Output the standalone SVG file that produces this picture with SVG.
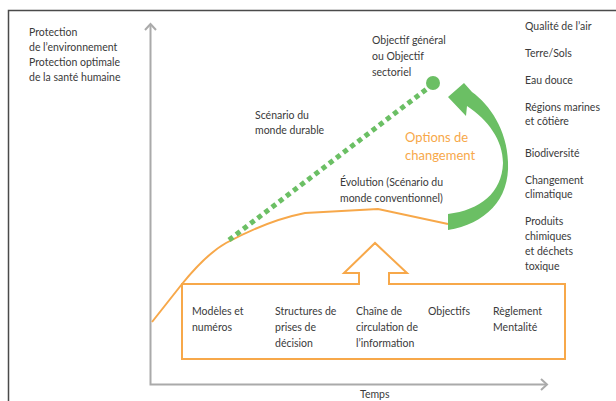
<svg xmlns="http://www.w3.org/2000/svg" width="616" height="401" viewBox="0 0 616 401">
<style>
.t{font-family:Lato,"Open Sans",sans-serif;font-size:10.5px;fill:#3a3a3a}
.o{font-family:Lato,"Open Sans",sans-serif;font-size:13px;fill:#F7A84A}
.ax{stroke:#aaaaaa;stroke-width:2;fill:none}
.or{stroke:#F7A84A;stroke-width:2;fill:none}
</style>
<rect width="616" height="401" fill="#ffffff"/>
<g id="frame">
<path d="M8.5,401 V10.5 H616" fill="none" stroke="#4a4a4a" stroke-width="1.5"/>
</g>
<g id="axes">
<path class="ax" d="M150.5,24 V384.5 H547"/>
<path class="ax" d="M145,30 L150.5,24 L156,30"/>
<path class="ax" d="M541,379 L547,384.5 L541,390"/>
<text class="t" x="360" y="398">Temps</text>
</g>
<g id="y-label">
<text class="t" x="29" y="36">Protection</text>
<text class="t" x="29" y="51">de l’environnement</text>
<text class="t" x="29" y="66">Protection optimale</text>
<text class="t" x="29" y="81">de la santé humaine</text>
</g>
<g id="connectors">
<path class="or" d="M152,322 L182,284 C195,268 210,252 226,243 C250,230 280,218 305,213 L378,209 L448,224"/>
<path d="M229,240 L428,88" stroke="#6BBF64" stroke-width="5" stroke-dasharray="5,4" fill="none"/>
<circle cx="433" cy="83" r="7" fill="#6BBF64"/>
<path d="M448,230 C485,224 510,200 508,162 C507,130 490,105 472,92 L464,83 L448,97 L466,116 L467,106 C488,120 503,140 503,163 C502,193 480,210 448,214 Z" fill="#6BBF64"/>
</g>
<g id="goal">
<text class="t" x="372" y="44">Objectif général</text>
<text class="t" x="372" y="60">ou Objectif</text>
<text class="t" x="372" y="76">sectoriel</text>
</g>
<g id="durable">
<text class="t" x="255" y="119">Scénario du</text>
<text class="t" x="255" y="134">monde durable</text>
</g>
<g id="options">
<text class="o" x="405" y="142">Options de</text>
<text class="o" x="405" y="160">changement</text>
</g>
<g id="evolution">
<text class="t" x="340" y="186">Évolution (Scénario du</text>
<text class="t" x="340" y="202">monde conventionnel)</text>
</g>
<g id="themes">
<text class="t" x="525" y="30">Qualité de l’air</text>
<text class="t" x="525" y="57">Terre/Sols</text>
<text class="t" x="525" y="84">Eau douce</text>
<text class="t" x="525" y="111">Régions marines</text>
<text class="t" x="525" y="125">et côtière</text>
<text class="t" x="525" y="157">Biodiversité</text>
<text class="t" x="525" y="184">Changement</text>
<text class="t" x="525" y="198">climatique</text>
<text class="t" x="525" y="225">Produits</text>
<text class="t" x="525" y="240">chimiques</text>
<text class="t" x="525" y="255">et déchets</text>
<text class="t" x="525" y="270">toxique</text>
</g>
<g id="factors">
<path class="or" d="M359,284 H182 V359 H565 V284 H389 V273 H407 L375,243 L344,273 H359 Z"/>
<text class="t" x="192" y="315">Modèles et</text>
<text class="t" x="192" y="331">numéros</text>
<text class="t" x="275" y="315">Structures de</text>
<text class="t" x="275" y="331">prises de</text>
<text class="t" x="275" y="347">décision</text>
<text class="t" x="356" y="315">Chaîne de</text>
<text class="t" x="356" y="331">circulation de</text>
<text class="t" x="356" y="347">l’information</text>
<text class="t" x="428" y="315">Objectifs</text>
<text class="t" x="493" y="315">Règlement</text>
<text class="t" x="493" y="331">Mentalité</text>
</g>
</svg>
